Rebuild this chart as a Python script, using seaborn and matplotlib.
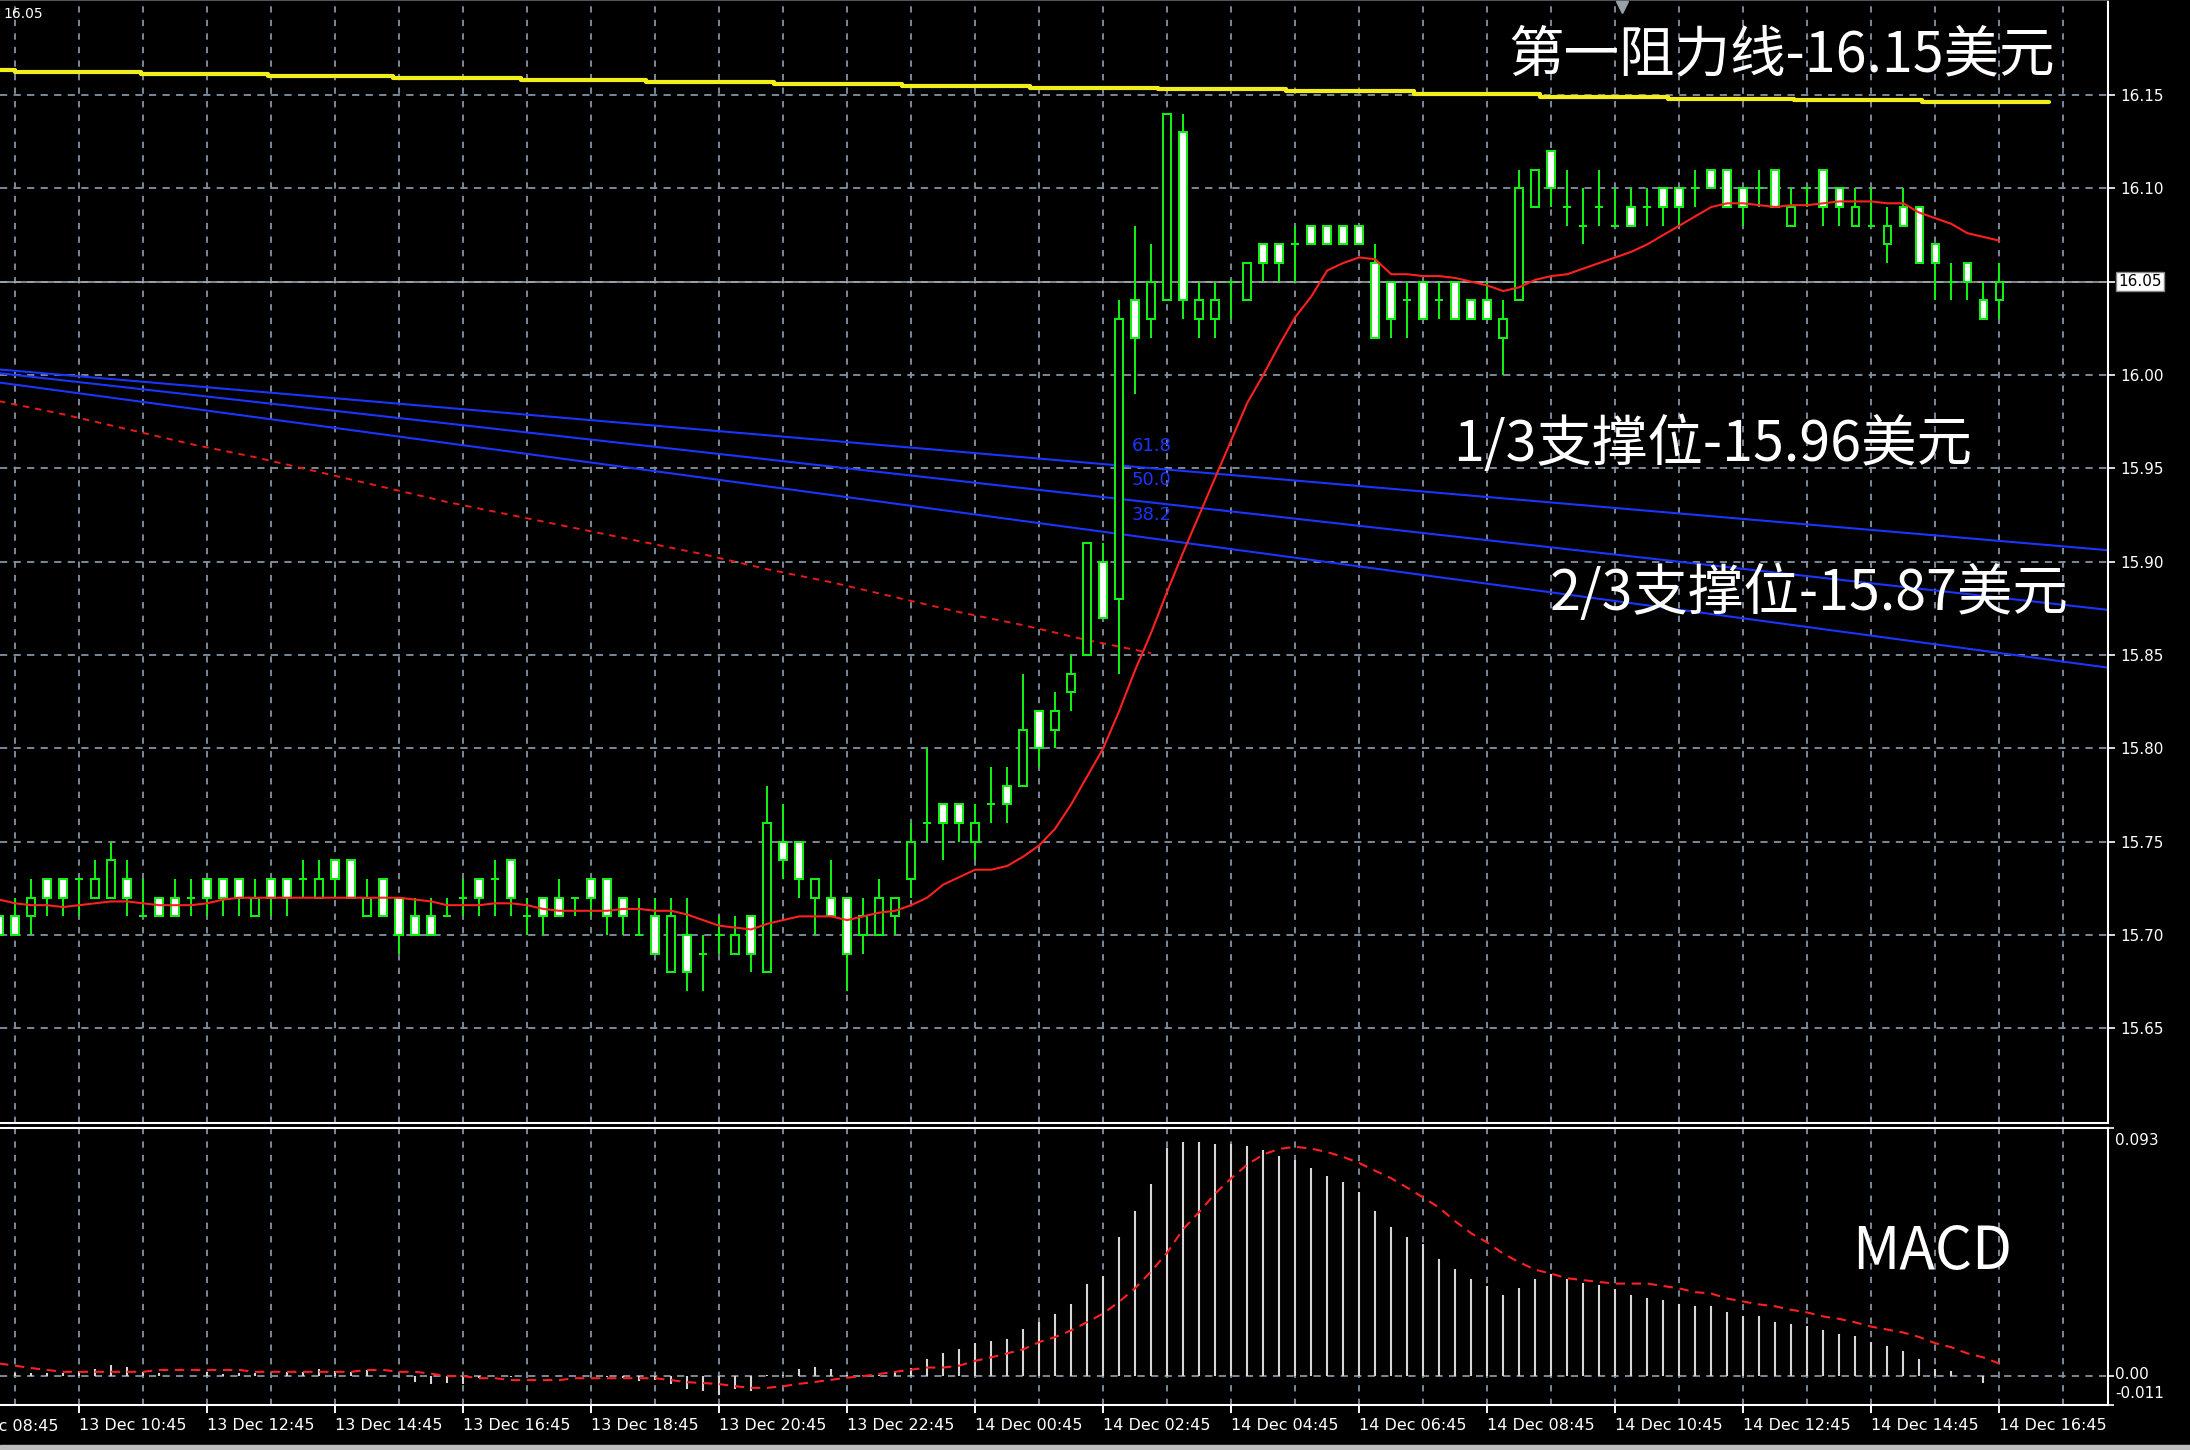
import numpy as np
import pandas as pd
import matplotlib
matplotlib.use('Agg')
import matplotlib.pyplot as plt
import matplotlib.transforms as mtransforms
import seaborn as sns

# 15-minute silver bars, 13 Dec 09:30 .. 14 Dec 16:45
open_ = [15.71, 15.71, 15.71, 15.73, 15.73, 15.73, 15.72, 15.72, 15.73, 15.71,
         15.72, 15.72, 15.72, 15.73, 15.73, 15.73, 15.71, 15.73, 15.73, 15.73,
         15.72, 15.74, 15.74, 15.71, 15.73, 15.72, 15.71, 15.71, 15.71, 15.72,
         15.73, 15.73, 15.74, 15.71, 15.72, 15.72, 15.72, 15.73, 15.73, 15.72,
         15.70, 15.71, 15.68, 15.70, 15.69, 15.70, 15.69, 15.71, 15.68, 15.75,
         15.75, 15.72, 15.72, 15.72, 15.70, 15.70, 15.71, 15.73, 15.76, 15.77,
         15.77, 15.75, 15.77, 15.78, 15.78, 15.82, 15.81, 15.83, 15.85, 15.90,
         15.88, 16.04, 16.03, 16.04, 16.13, 16.03, 16.03, 16.05, 16.04, 16.07,
         16.07, 16.07, 16.08, 16.08, 16.08, 16.08, 16.06, 16.05, 16.04, 16.05,
         16.04, 16.05, 16.04, 16.04, 16.02, 16.04, 16.09, 16.12, 16.09, 16.08,
         16.09, 16.08, 16.09, 16.09, 16.10, 16.10, 16.10, 16.11, 16.11, 16.10,
         16.10, 16.11, 16.08, 16.10, 16.11, 16.10, 16.08, 16.08, 16.07, 16.09,
         16.09, 16.07, 16.05, 16.06, 16.04, 16.04]
high = [15.71, 15.72, 15.73, 15.73, 15.73, 15.73, 15.74, 15.75, 15.74, 15.73,
        15.72, 15.73, 15.73, 15.73, 15.73, 15.73, 15.73, 15.73, 15.73, 15.74,
        15.74, 15.74, 15.74, 15.73, 15.73, 15.72, 15.72, 15.72, 15.72, 15.73,
        15.73, 15.74, 15.74, 15.72, 15.72, 15.73, 15.72, 15.73, 15.73, 15.72,
        15.72, 15.72, 15.72, 15.72, 15.70, 15.71, 15.71, 15.71, 15.78, 15.77,
        15.75, 15.73, 15.74, 15.72, 15.72, 15.73, 15.72, 15.76, 15.80, 15.77,
        15.77, 15.77, 15.79, 15.79, 15.84, 15.82, 15.83, 15.85, 15.91, 15.91,
        16.04, 16.08, 16.07, 16.14, 16.14, 16.05, 16.05, 16.05, 16.06, 16.07,
        16.07, 16.08, 16.08, 16.08, 16.08, 16.08, 16.07, 16.05, 16.05, 16.05,
        16.05, 16.05, 16.04, 16.05, 16.04, 16.11, 16.11, 16.12, 16.11, 16.10,
        16.11, 16.10, 16.10, 16.10, 16.10, 16.10, 16.11, 16.11, 16.11, 16.10,
        16.11, 16.11, 16.10, 16.10, 16.11, 16.10, 16.10, 16.10, 16.09, 16.10,
        16.09, 16.07, 16.06, 16.06, 16.05, 16.06]
low = [15.69, 15.70, 15.70, 15.71, 15.71, 15.71, 15.72, 15.72, 15.71, 15.71,
       15.71, 15.71, 15.71, 15.71, 15.71, 15.71, 15.71, 15.71, 15.71, 15.72,
       15.72, 15.72, 15.72, 15.71, 15.71, 15.69, 15.70, 15.70, 15.71, 15.71,
       15.71, 15.71, 15.71, 15.70, 15.70, 15.71, 15.71, 15.71, 15.70, 15.70,
       15.70, 15.69, 15.68, 15.67, 15.67, 15.69, 15.69, 15.68, 15.68, 15.73,
       15.72, 15.70, 15.71, 15.67, 15.69, 15.70, 15.70, 15.72, 15.75, 15.74,
       15.75, 15.74, 15.76, 15.76, 15.78, 15.79, 15.80, 15.82, 15.85, 15.87,
       15.84, 15.99, 16.02, 16.04, 16.03, 16.02, 16.02, 16.03, 16.04, 16.05,
       16.05, 16.05, 16.07, 16.07, 16.07, 16.07, 16.02, 16.02, 16.02, 16.03,
       16.03, 16.03, 16.03, 16.03, 16.00, 16.04, 16.09, 16.09, 16.08, 16.07,
       16.08, 16.08, 16.08, 16.08, 16.08, 16.08, 16.09, 16.10, 16.09, 16.08,
       16.09, 16.09, 16.08, 16.09, 16.08, 16.08, 16.08, 16.08, 16.06, 16.08,
       16.06, 16.04, 16.04, 16.04, 16.03, 16.03]
close = [15.70, 15.70, 15.72, 15.72, 15.72, 15.73, 15.73, 15.74, 15.72, 15.71,
         15.71, 15.71, 15.72, 15.72, 15.72, 15.72, 15.72, 15.72, 15.72, 15.73,
         15.73, 15.73, 15.72, 15.72, 15.71, 15.70, 15.70, 15.70, 15.71, 15.72,
         15.72, 15.73, 15.72, 15.71, 15.71, 15.71, 15.72, 15.72, 15.71, 15.71,
         15.70, 15.69, 15.71, 15.68, 15.69, 15.70, 15.70, 15.69, 15.76, 15.74,
         15.73, 15.73, 15.71, 15.69, 15.71, 15.72, 15.72, 15.75, 15.76, 15.76,
         15.76, 15.76, 15.77, 15.77, 15.81, 15.80, 15.82, 15.84, 15.91, 15.87,
         16.03, 16.02, 16.05, 16.14, 16.04, 16.04, 16.04, 16.05, 16.06, 16.06,
         16.06, 16.07, 16.07, 16.07, 16.07, 16.07, 16.02, 16.03, 16.04, 16.03,
         16.04, 16.03, 16.03, 16.03, 16.03, 16.10, 16.11, 16.10, 16.09, 16.08,
         16.09, 16.08, 16.08, 16.09, 16.09, 16.09, 16.10, 16.10, 16.09, 16.09,
         16.10, 16.09, 16.09, 16.10, 16.09, 16.09, 16.09, 16.08, 16.08, 16.08,
         16.06, 16.06, 16.05, 16.05, 16.03, 16.05]

# fast moving average (red solid)
ma_fast = [15.719, 15.717, 15.716, 15.716, 15.715, 15.716, 15.717, 15.718, 15.718, 15.717,
           15.716, 15.716, 15.716, 15.717, 15.719, 15.720, 15.720, 15.720, 15.720, 15.720,
           15.720, 15.720, 15.720, 15.720, 15.720, 15.720, 15.719, 15.718, 15.716, 15.716,
           15.716, 15.717, 15.717, 15.716, 15.714, 15.713, 15.713, 15.713, 15.713, 15.714,
           15.714, 15.713, 15.713, 15.711, 15.708, 15.705, 15.704, 15.703, 15.706, 15.708,
           15.710, 15.710, 15.710, 15.708, 15.710, 15.712, 15.713, 15.716, 15.720, 15.727,
           15.731, 15.735, 15.735, 15.737, 15.742, 15.748, 15.757, 15.770, 15.785, 15.800,
           15.820, 15.842, 15.862, 15.884, 15.905, 15.925, 15.945, 15.965, 15.985, 16.000,
           16.016, 16.031, 16.042, 16.056, 16.060, 16.063, 16.062, 16.054, 16.054, 16.053,
           16.053, 16.052, 16.050, 16.048, 16.045, 16.047, 16.051, 16.053, 16.054, 16.057,
           16.060, 16.063, 16.066, 16.070, 16.075, 16.080, 16.085, 16.090, 16.092, 16.092,
           16.091, 16.090, 16.091, 16.091, 16.092, 16.093, 16.093, 16.093, 16.092, 16.092,
           16.087, 16.084, 16.081, 16.076, 16.074, 16.072]

# slow moving average (red dotted), only drawn up to where it meets the fast one
ma_slow_idx = [0, 4, 8, 12, 16, 20, 24, 28, 32, 36, 40, 44, 48, 52, 56, 60, 64, 68, 72]
ma_slow = [15.986, 15.979, 15.971, 15.963, 15.956, 15.948, 15.940, 15.932, 15.925, 15.918,
           15.911, 15.904, 15.896, 15.889, 15.881, 15.873, 15.866, 15.858, 15.851]

# yellow resistance line (stepped)
res_idx = [0, 1.0, 8.9, 16.8, 24.6, 32.6, 40.4, 48.4, 56.4, 64.4, 72.4, 80.4, 88.4,
           96.3, 104.3, 112.2, 120.2, 128.1]
res_val = [16.1634, 16.1625, 16.1612, 16.1602, 16.1591, 16.1580, 16.1570, 16.1560, 16.1550,
           16.1540, 16.1530, 16.1521, 16.1504, 16.1491, 16.1480, 16.1473, 16.1464, 16.1464]

# fibonacci fan lines (blue)
fib_labels = ['61.8', '50.0', '38.2']
fib_x = [0, 132]
fib_start = [16.003, 16.001, 15.996]
fib_end = [15.906, 15.874, 15.843]

# MACD main (histogram) and signal (red dotted)
macd_hist = [0.0010, 0.0010, 0.0010, 0.0010, 0.0010, 0.0019, 0.0028, 0.0042, 0.0034, 0.0016,
             0.0013, 0.0000, 0.0000, 0.0016, 0.0009, 0.0013, 0.0013, 0.0000, 0.0016, 0.0016,
             0.0028, 0.0019, 0.0016, 0.0022, 0.0000, 0.0000, -0.0022, -0.0028, -0.0025, -0.0028,
             -0.0008, 0.0000, -0.0005, 0.0000, 0.0000, 0.0000, 0.0000, 0.0000, -0.0005, -0.0008,
             -0.0019, -0.0015, -0.0028, -0.0049, -0.0057, -0.0070, -0.0049, -0.0057, 0.0003, 0.0005,
             0.0025, 0.0034, 0.0025, 0.0003, 0.0003, 0.0005, 0.0019, 0.0030, 0.0065, 0.0087,
             0.0102, 0.0123, 0.0133, 0.0140, 0.0178, 0.0202, 0.0232, 0.0269, 0.0345, 0.0376,
             0.0520, 0.0617, 0.0717, 0.0854, 0.0877, 0.0877, 0.0869, 0.0869, 0.0862, 0.0846,
             0.0824, 0.0808, 0.0778, 0.0748, 0.0725, 0.0687, 0.0619, 0.0558, 0.0520, 0.0494,
             0.0439, 0.0401, 0.0363, 0.0337, 0.0302, 0.0331, 0.0363, 0.0382, 0.0363, 0.0350,
             0.0340, 0.0324, 0.0302, 0.0294, 0.0286, 0.0271, 0.0263, 0.0263, 0.0240, 0.0225,
             0.0225, 0.0204, 0.0195, 0.0187, 0.0172, 0.0157, 0.0149, 0.0126, 0.0111, 0.0095,
             0.0065, 0.0025, 0.0019, 0.0000, -0.0025, 0.0000]
macd_signal = [0.0047, 0.0039, 0.0030, 0.0023, 0.0016, 0.0016, 0.0016, 0.0016, 0.0016, 0.0016,
               0.0023, 0.0023, 0.0023, 0.0023, 0.0023, 0.0023, 0.0016, 0.0016, 0.0016, 0.0016,
               0.0016, 0.0016, 0.0016, 0.0023, 0.0023, 0.0016, 0.0016, 0.0009, 0.0000, 0.0000,
               -0.0008, -0.0008, -0.0015, -0.0015, -0.0015, -0.0015, -0.0008, -0.0008, -0.0008, -0.0008,
               -0.0008, -0.0008, -0.0015, -0.0023, -0.0026, -0.0030, -0.0038, -0.0044, -0.0044, -0.0038,
               -0.0029, -0.0022, -0.0014, -0.0006, 0.0000, 0.0008, 0.0016, 0.0024, 0.0032, 0.0032,
               0.0039, 0.0057, 0.0070, 0.0085, 0.0100, 0.0127, 0.0146, 0.0171, 0.0202, 0.0234,
               0.0278, 0.0329, 0.0392, 0.0462, 0.0550, 0.0614, 0.0683, 0.0740, 0.0791, 0.0829,
               0.0850, 0.0858, 0.0851, 0.0838, 0.0820, 0.0797, 0.0768, 0.0740, 0.0705, 0.0668,
               0.0630, 0.0579, 0.0534, 0.0500, 0.0458, 0.0426, 0.0398, 0.0383, 0.0366, 0.0359,
               0.0352, 0.0346, 0.0346, 0.0346, 0.0337, 0.0328, 0.0314, 0.0309, 0.0290, 0.0279,
               0.0268, 0.0261, 0.0248, 0.0238, 0.0223, 0.0214, 0.0201, 0.0185, 0.0174, 0.0163,
               0.0146, 0.0123, 0.0108, 0.0085, 0.0070, 0.0047]

price_ticks = [15.65, 15.70, 15.75, 15.80, 15.85, 15.90, 15.95, 16.00, 16.05, 16.10, 16.15]
time_ticks = [5, 13, 21, 29, 37, 45, 53, 61, 69, 77, 85, 93, 101, 109, 117, 125]
time_labels = ['13 Dec 10:45', '13 Dec 12:45', '13 Dec 14:45', '13 Dec 16:45',
               '13 Dec 18:45', '13 Dec 20:45', '13 Dec 22:45', '14 Dec 00:45',
               '14 Dec 02:45', '14 Dec 04:45', '14 Dec 06:45', '14 Dec 08:45',
               '14 Dec 10:45', '14 Dec 12:45', '14 Dec 14:45', '14 Dec 16:45']
last_price = 16.05
macd_top = 0.093
macd_bottom = -0.011

sns.set_style('dark')
plt.rcParams['font.family'] = ['DejaVu Sans']
cjk = ['Noto Sans CJK SC', 'DejaVu Sans']

GREEN = '#11ee11'
RED = '#ff2020'
BLUE = '#1a35ff'
GRID = '#8393a3'

df = pd.DataFrame({'i': np.arange(len(close)), 'open': open_, 'high': high, 'low': low,
                   'close': close, 'ma': ma_fast, 'hist': macd_hist, 'signal': macd_signal})
bull = df['close'] >= df['open']

fig = plt.figure(figsize=(21.9, 14.5), dpi=100, facecolor='black')
ax = fig.add_axes([0.0, 0.2255, 0.9626, 0.7745])
ax2 = fig.add_axes([0.0, 0.0307, 0.9626, 0.1917])

for a in (ax, ax2):
    a.set_facecolor('black')
    a.set_xlim(0.06, 131.8)
    a.grid(False)
    for k in range(1, 130, 4):
        a.axvline(k, color=GRID, lw=1.3, ls=(0, (3.5, 4)), zorder=1)
    a.spines['left'].set_visible(False)
    for s in ('right', 'bottom', 'top'):
        a.spines[s].set_color('white')
        a.spines[s].set_linewidth(1.5)
ax.spines['top'].set_color('#555555')

# ---- price panel ----
ax.set_ylim(15.5993, 16.2009)
for p in price_ticks:
    ax.axhline(p, color=GRID, lw=1.3, ls=(0, (4, 3.5)), zorder=1)
ax.axhline(last_price, color='#a3abb3', lw=1.1, zorder=2)

for k in range(3):
    ax.plot(fib_x, [fib_start[k], fib_end[k]], color=BLUE, lw=1.5, zorder=2)
    yk = fib_start[k] + (fib_end[k] - fib_start[k]) * 70.8 / fib_x[1]
    ax.text(70.8, yk + 0.011, fib_labels[k], color=BLUE, fontsize=13, va='center', ha='left')

ax.step(res_idx, res_val, where='post', color='#f2ee1c', lw=3.0, zorder=2)
sns.lineplot(x=ma_slow_idx, y=ma_slow, ax=ax, color='#e81a1a', lw=1.4,
             linestyle=(0, (3.3, 3.0)), zorder=2)

ax.vlines(df['i'], df['low'], df['high'], color=GREEN, lw=1.45, zorder=3)
ax.bar(df['i'], df['close'] - df['open'], bottom=df['open'], width=0.47,
       color=np.where(bull, 'black', 'white'), edgecolor=GREEN, linewidth=1.45, zorder=4)
sns.lineplot(data=df, x='i', y='ma', ax=ax, color=RED, lw=1.5, zorder=5)

ax.yaxis.tick_right()
ax.set_yticks(price_ticks)
ax.set_yticklabels([f'{p:.2f}' for p in price_ticks])
ax.tick_params(axis='y', colors='white', right=True, length=5, width=1.2, labelsize=11, pad=4)
ax.tick_params(axis='x', bottom=False, labelbottom=False)
ax.set_xlabel('')
ax.set_ylabel('')

trans = mtransforms.blended_transform_factory(ax.transAxes, ax.transData)
ax.annotate(f'{last_price:.2f}', xy=(1, last_price), xycoords=trans, xytext=(7, 0),
            textcoords='offset points', va='center', ha='left', fontsize=11, color='black',
            bbox=dict(boxstyle='square,pad=0.15', fc='white', ec='#888888'),
            annotation_clip=False)
ax.plot([101.4], [16.197], marker='v', ms=9, color='#9aa0a8', clip_on=False, zorder=6)

ax.text(94.35, 16.1625, '第一阻力线-16.15美元', color='white', fontsize=40, family=cjk,
        va='baseline', ha='left', zorder=7)
ax.text(90.85, 15.954, '1/3支撑位-15.96美元', color='white', fontsize=40, family=cjk,
        va='baseline', ha='left', zorder=7)
ax.text(96.9, 15.874, '2/3支撑位-15.87美元', color='white', fontsize=40, family=cjk,
        va='baseline', ha='left', zorder=7)
fig.text(0.0015, 0.9955, f'{last_price:.2f}', color='white', fontsize=10, va='top', ha='left')

# ---- MACD panel ----
ax2.set_ylim(macd_bottom, macd_top)
ax2.axhline(0, color=GRID, lw=1.3, ls=(0, (4, 3.5)), zorder=1)
ax2.vlines(df['i'], 0, df['hist'], color='#d6d6d6', lw=1.5, zorder=3)
sns.lineplot(data=df, x='i', y='signal', ax=ax2, color=RED, lw=1.5,
             linestyle=(0, (4.5, 3.2)), zorder=4)
ax2.set_xlabel('')
ax2.set_ylabel('')

ax2.set_xticks(time_ticks)
ax2.set_xticklabels(time_labels, ha='left')
ax2.tick_params(axis='x', colors='white', bottom=True, length=6, width=1.4,
                labelsize=11.5, pad=3)
ax2.yaxis.tick_right()
ax2.set_yticks([macd_bottom, 0, macd_top])
ax2.set_yticklabels(['', '', ''])
ax2.tick_params(axis='y', colors='white', right=True, length=4, width=1.2)

# earlier time label that the chart window cuts at its left edge
trans2x = mtransforms.blended_transform_factory(ax2.transData, ax2.transAxes)
ax2.annotate('13 Dec 08:45', xy=(-3, 0), xycoords=trans2x, xytext=(0, -9.5),
             textcoords='offset points', va='top', ha='left', fontsize=11.5, color='white',
             annotation_clip=False)

trans2 = mtransforms.blended_transform_factory(ax2.transAxes, ax2.transData)
ax2.annotate(f'{macd_top:.3f}', xy=(1, macd_top), xycoords=trans2, xytext=(5, -4),
             textcoords='offset points', va='top', ha='left', fontsize=11, color='white',
             annotation_clip=False)
ax2.annotate('0.00', xy=(1, 0), xycoords=trans2, xytext=(5, 1),
             textcoords='offset points', va='center', ha='left', fontsize=11, color='white',
             annotation_clip=False)
ax2.annotate(f'{macd_bottom:.3f}', xy=(1, macd_bottom), xycoords=trans2, xytext=(5, 3),
             textcoords='offset points', va='bottom', ha='left', fontsize=11, color='white',
             annotation_clip=False)
ax2.text(115.8, 0.0401, 'MACD', color='white', fontsize=42, family=cjk,
         va='baseline', ha='left', zorder=7)

fig.add_artist(plt.Rectangle((0, 0), 1, 0.0035, transform=fig.transFigure,
                             color='#bdbdbd', zorder=10))

fig.savefig('out.png', dpi=100, facecolor='black')
